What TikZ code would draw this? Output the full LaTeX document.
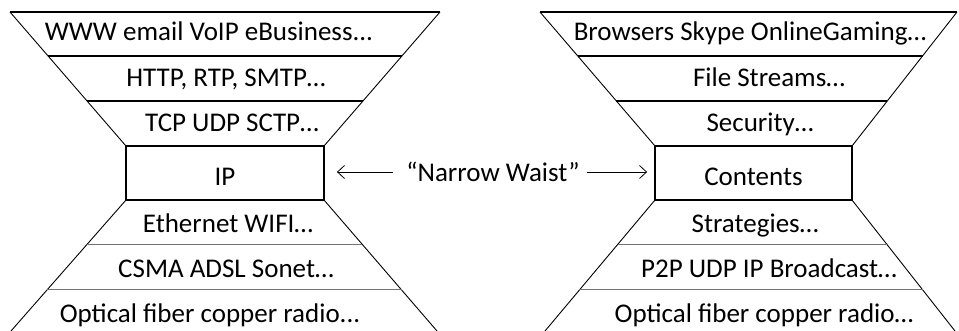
\documentclass[tikz,border=0pt]{standalone}
\usepackage{fontspec}
\setmainfont{Carlito}
\usetikzlibrary{calc,arrows.meta}
\begin{document}
\begin{tikzpicture}[x=1pt,y=-1pt,
  lbl/.style={font=\fontsize{27}{31}\selectfont, inner sep=0pt, anchor=base},
  topln/.style={line width=1.8pt},
  diag/.style={line width=0.9pt},
  grayln/.style={line width=1pt, draw=black!55},
  waistbox/.style={draw, line width=1.8pt, minimum height=54pt, inner sep=0pt,
    font=\fontsize{27}{31}\selectfont, text height=25pt, text depth=0pt},
  arr/.style={line width=0.8pt, -{Straight Barb[length=7pt,width=13pt]}}]
\useasboundingbox (0,0) rectangle (959,331);

% ---------- left hourglass ----------
\coordinate (LA) at (10,12);
\coordinate (LB) at (126,146);
\coordinate (LC) at (440,12);
\coordinate (LD) at (324,146);
\coordinate (LE) at (126,200);
\coordinate (LF) at (11,331);
\coordinate (LG) at (324,200);
\coordinate (LH) at (437,331);
\draw[topln] (LA) -- (LC);
\draw[diag] (LA) -- (LB) (LC) -- (LD) (LE) -- (LF) (LG) -- (LH);
\draw[topln] ($(LA)!0.328!(LB)$) -- ($(LC)!0.328!(LD)$);
\draw[topln] ($(LA)!0.664!(LB)$) -- ($(LC)!0.664!(LD)$);
\draw[grayln] ($(LE)!0.336!(LF)$) -- ($(LG)!0.336!(LH)$);
\draw[grayln] ($(LE)!0.687!(LF)$) -- ($(LG)!0.687!(LH)$);
\node[waistbox, minimum width=198pt] (ip) at (225,173) {IP};

\node[lbl] (l1) at (209,41) {WWW email VoIP eBusiness...};
\node[lbl] (l2) at (226,87) {HTTP, RTP, SMTP…};
\node[lbl] (l3) at (232,132) {TCP UDP SCTP…};
\node[lbl] (l5) at (228,233) {Ethernet WIFI…};
\node[lbl] (l6) at (226,278) {CSMA ADSL Sonet…};
\node[lbl] (l7) at (210,323) {Optical fiber copper radio...};

% ---------- right hourglass ----------
\coordinate (RA) at (540,12);
\coordinate (RB) at (655,146);
\coordinate (RC) at (957,12);
\coordinate (RD) at (852,146);
\coordinate (RE) at (655,200);
\coordinate (RF) at (545,331);
\coordinate (RG) at (852,200);
\coordinate (RH) at (955,331);
\draw[topln] (RA) -- (RC);
\draw[diag] (RA) -- (RB) (RC) -- (RD) (RE) -- (RF) (RG) -- (RH);
\draw[topln] ($(RA)!0.328!(RB)$) -- ($(RC)!0.328!(RD)$);
\draw[topln] ($(RA)!0.664!(RB)$) -- ($(RC)!0.664!(RD)$);
\draw[grayln] ($(RE)!0.336!(RF)$) -- ($(RG)!0.336!(RH)$);
\draw[grayln] ($(RE)!0.687!(RF)$) -- ($(RG)!0.687!(RH)$);
\node[waistbox, minimum width=197pt] (ct) at (753.5,173) {Contents};

\node[lbl] (r1) at (750,41) {Browsers Skype OnlineGaming…};
\node[lbl] (r2) at (769,87) {File Streams…};
\node[lbl] (r3) at (760,132) {Security…};
\node[lbl] (r5) at (755,233) {Strategies…};
\node[lbl] (r6) at (769,278) {P2P UDP IP Broadcast…};
\node[lbl] (r7) at (764,323) {Optical fiber copper radio…};

% ---------- narrow waist ----------
\node[font=\fontsize{27}{31}\selectfont, inner sep=0pt] (nw) at (493,172) {“Narrow Waist”};
\draw[arr, shorten <=13pt, shorten >=12pt] (nw.west) -- (nw.west -| ip.east);
\draw[arr, shorten <=7pt, shorten >=7pt] (nw.east) -- (nw.east -| ct.west);
\end{tikzpicture}
\end{document}
